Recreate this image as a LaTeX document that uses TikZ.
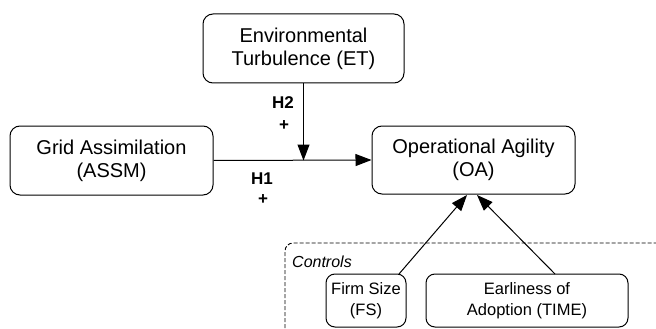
\documentclass[tikz,border=0pt]{standalone}
\usepackage{fontspec}
\setmainfont{Liberation Sans}
\usetikzlibrary{arrows.meta}
\tikzset{
  bigbox/.style={draw, line width=1pt, rounded corners=10pt, align=center, inner sep=0pt,
    font=\fontsize{20}{23}\selectfont},
  smallbox/.style={draw, line width=1pt, rounded corners=9pt, align=center, inner sep=0pt,
    font=\fontsize{16.5}{21.5}\selectfont},
  arr/.style={line width=1pt, -{Triangle[length=16pt,width=12pt]}},
  hlab/.style={font=\fontsize{17}{20}\selectfont\bfseries, inner sep=0pt},
}
\begin{document}
\begin{tikzpicture}[x=1pt,y=-1pt]
\useasboundingbox (0,0) rectangle (656,329);
\node[bigbox, minimum width=201pt, minimum height=69pt] (et) at (303.5,48.5) {Environmental\\Turbulence (ET)};
\node[bigbox, minimum width=203pt, minimum height=69pt] (assm) at (111.5,160.5) {Grid Assimilation\\(ASSM)};
\node[bigbox, minimum width=203pt, minimum height=68pt] (oa) at (473.5,160) {Operational Agility\\(OA)};
\node[smallbox, minimum width=80pt, minimum height=53pt] (fs) at (366,300.5) {Firm Size\\(FS)};
\node[smallbox, minimum width=202pt, minimum height=53pt] (time) at (527,300.5) {Earliness of\\Adoption (TIME)};
\draw[line width=0.9pt, dash pattern=on 4pt off 2pt, rounded corners=8pt] (285,340) -- (285,243) -- (670,243);
\node[font=\fontsize{16}{19}\selectfont\itshape, anchor=west, inner sep=0pt] (ctl) at (292,262) {Controls};
\coordinate (mid) at (assm.east -| et.south);
\draw[arr] (assm.east) -- (oa.west);
\draw[arr] (et.south) -- (mid);
\coordinate (fsa) at (399,274);
\coordinate (timea) at (555,274);
\coordinate (oa1) at (467,195);
\coordinate (oa2) at (477,195);
\draw[arr] (fsa) -- (oa1);
\draw[arr] (timea) -- (oa2);
\node[hlab] (h2) at (283,103) {H2};
\node[hlab] (h2p) at (284,126) {+};
\node[hlab] (h1) at (262,179) {H1};
\node[hlab] (h1p) at (263,200) {+};
\end{tikzpicture}
\end{document}
